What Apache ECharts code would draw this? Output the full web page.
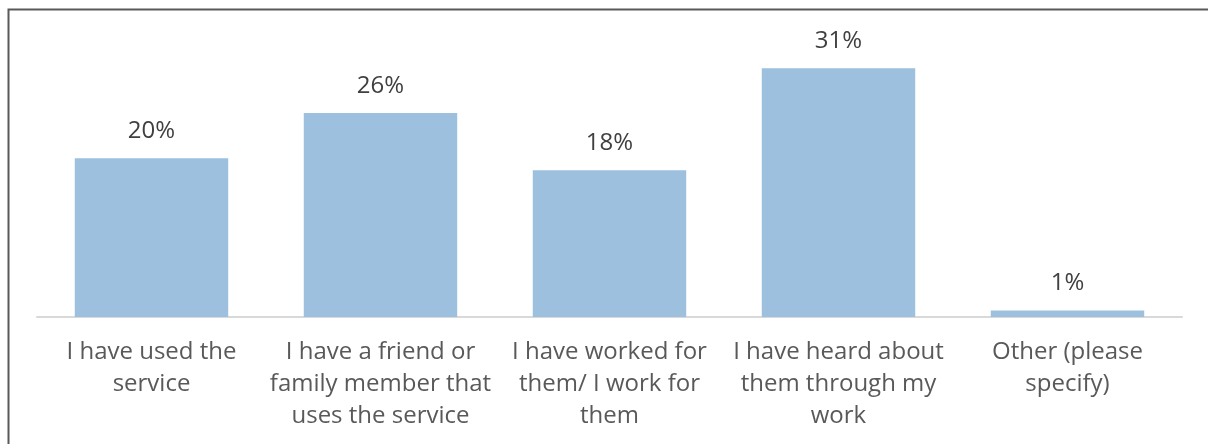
<!DOCTYPE html>
<html>
<head>
<meta charset="utf-8">
<script src="https://cdn.jsdelivr.net/npm/echarts@6/dist/echarts.min.js"></script>
<style>
  html, body { margin: 0; padding: 0; background: #ffffff; }
  #chart { width: 1208px; height: 444px; }
</style>
</head>
<body>
<div id="chart"></div>
<script>
// data (percent)
var categories = [
  'I have used the\nservice',
  'I have a friend or\nfamily member that\nuses the service',
  'I have worked for\nthem/ I work for\nthem',
  'I have heard about\nthem through my\nwork',
  'Other (please\nspecify)'
];
var values = [19.9, 25.6, 18.4, 31.2, 0.8];
var labels = ['20%', '26%', '18%', '31%', '1%'];

var chart = echarts.init(document.getElementById('chart'), null, { renderer: 'canvas' });

var option = {
  backgroundColor: '#ffffff',
  animation: false,
  textStyle: { fontFamily: '"Open Sans", "Liberation Sans", Arial, sans-serif' },
  grid: { left: 37, right: 26, top: 38, bottom: 127 },
  xAxis: {
    type: 'category',
    data: categories,
    axisLine: { lineStyle: { color: '#D9D9D9', width: 2 } },
    axisTick: { show: false },
    axisLabel: {
      interval: 0,
      margin: 19,
      color: '#595959',
      fontSize: 24,
      lineHeight: 32,
      align: 'center'
    }
  },
  yAxis: {
    type: 'value',
    min: 0,
    max: 35,
    show: false
  },
  series: [{
    type: 'bar',
    data: values,
    barWidth: '67%',
    itemStyle: { color: '#9DC0DE' },
    label: {
      show: true,
      position: 'top',
      distance: 15,
      color: '#404040',
      fontSize: 24,
      formatter: function (p) { return labels[p.dataIndex]; }
    }
  }],
  graphic: [{
    type: 'polyline',
    shape: { points: [[8.5, 444], [8.5, 9.5], [1208, 9.5]] },
    style: { stroke: '#595959', lineWidth: 2, fill: null },
    silent: true
  }]
};

chart.setOption(option);
</script>
</body>
</html>
